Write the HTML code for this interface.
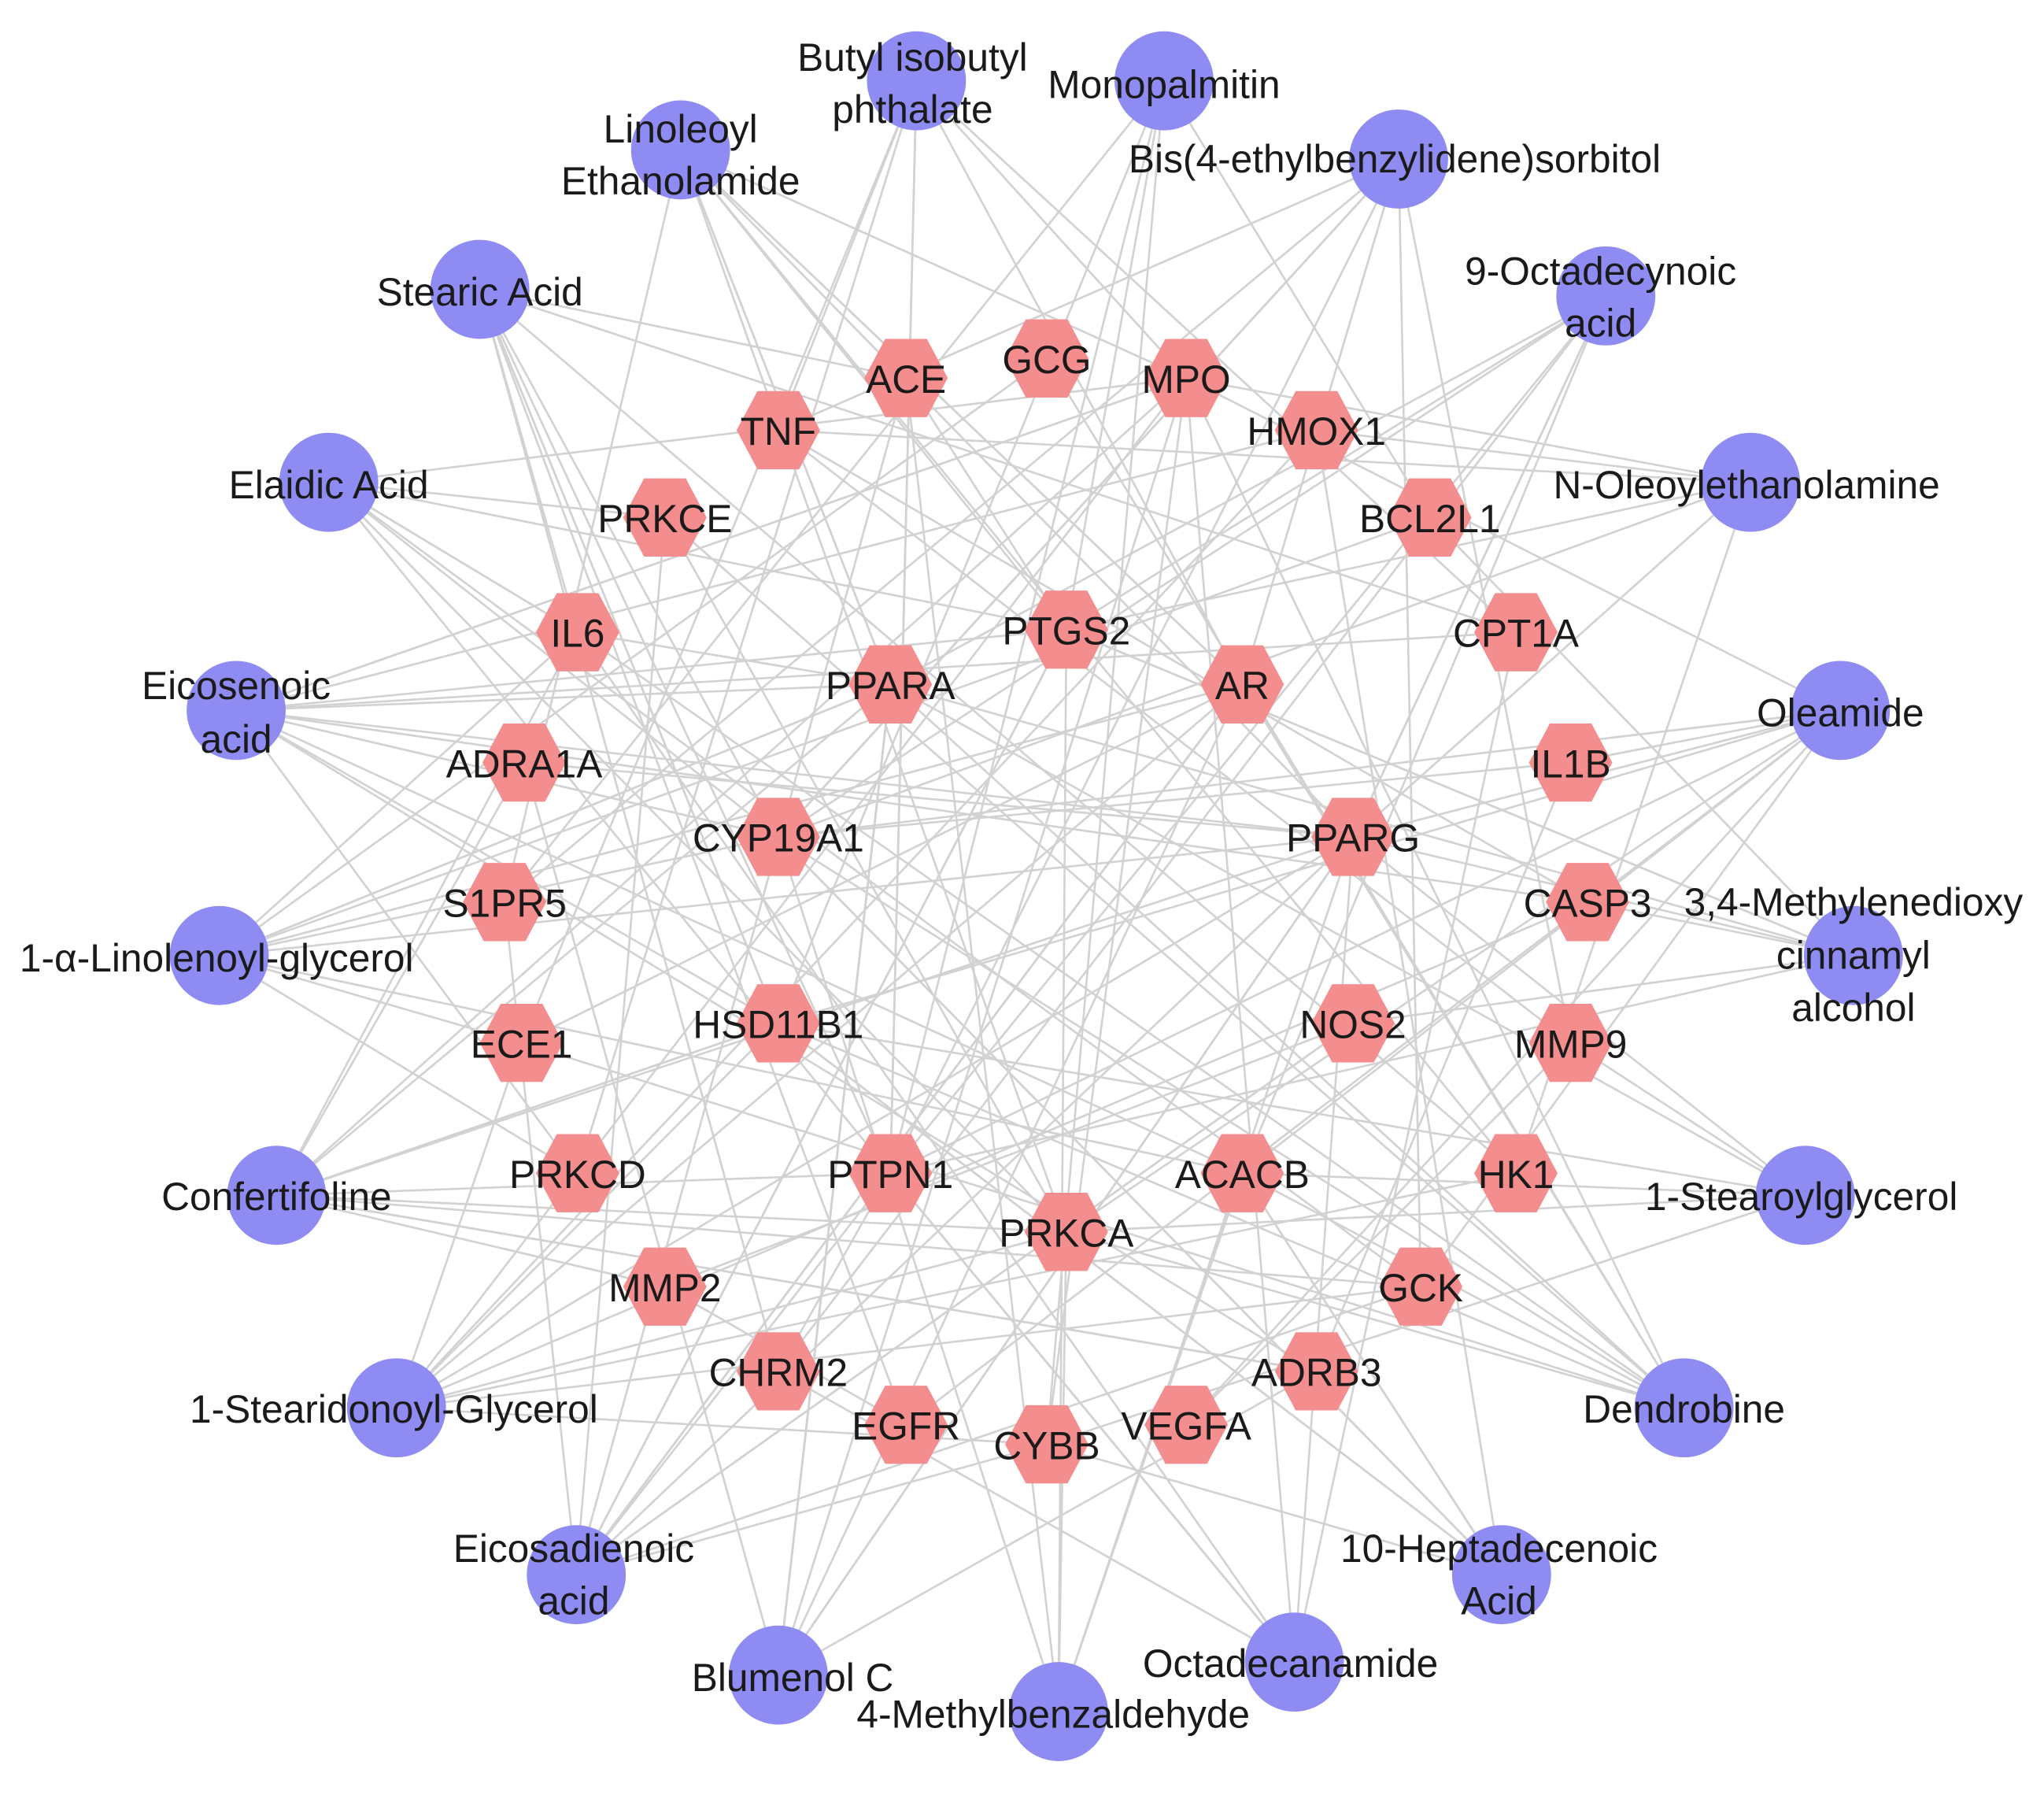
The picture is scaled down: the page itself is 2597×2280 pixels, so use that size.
<!DOCTYPE html>
<html><head><meta charset="utf-8"><style>
html,body{margin:0;padding:0;background:#fff;}
svg{display:block;}
text{font-family:"Liberation Sans",sans-serif;font-size:30px;fill:#1a1a1a;text-anchor:middle;dominant-baseline:central;}
</style></head><body>
<svg id="s" width="2597" height="2280" viewBox="0 0 1568 1377" xmlns="http://www.w3.org/2000/svg">
<rect width="1568" height="1377" fill="#fff"/>
<g id="edges" stroke="#d2d2d2" stroke-width="1.6"></g>
<g id="nodes"></g>
<g id="labels"></g>
</svg>
<script>
var C=[
[703,62,[["Butyl isobutyl",700,44],["phthalate",700,84]]],
[893,62,[["Monopalmitin",893,65]]],
[522,115,[["Linoleoyl",522,99],["Ethanolamide",522,139]]],
[1073,122,[["Bis(4-ethylbenzylidene)sorbitol",1070,122]]],
[368,222,[["Stearic Acid",368,224]]],
[1232,227,[["9-Octadecynoic",1228,208],["acid",1228,248]]],
[252,370,[["Elaidic Acid",252,372]]],
[1343,370,[["N-Oleoylethanolamine",1340,372]]],
[181,545,[["Eicosenoic",181,526],["acid",181,567]]],
[1412,545,[["Oleamide",1412,547]]],
[168,733,[["1-α-Linolenoyl-glycerol",166,735]]],
[1422,733,[["3,4-Methylenedioxy",1422,692],["cinnamyl",1422,733],["alcohol",1422,773]]],
[212,917,[["Confertifoline",212,918]]],
[1385,917,[["1-Stearoylglycerol",1382,918]]],
[304,1080,[["1-Stearidonoyl-Glycerol",302,1081]]],
[1292,1080,[["Dendrobine",1292,1081]]],
[442,1208,[["Eicosadienoic",440,1188],["acid",440,1228]]],
[1152,1208,[["10-Heptadecenoic",1150,1188],["Acid",1150,1228]]],
[597,1285,[["Blumenol C",608,1287]]],
[993,1275,[["Octadecanamide",990,1276]]],
[812,1313,[["4-Methylbenzaldehyde",808,1315]]]
];
var H=[["ACE",695,290],["GCG",803,275],["MPO",910,290],["TNF",597,330],["HMOX1",1010,330],["PRKCE",510,397],["BCL2L1",1097,397],["IL6",443,485],["PTGS2",818,483],["CPT1A",1163,485],["PPARA",683,525],["AR",953,525],["ADRA1A",402,585],["IL1B",1205,585],["CYP19A1",597,642],["PPARG",1038,642],["S1PR5",387,692],["CASP3",1218,692],["HSD11B1",597,785],["NOS2",1038,785],["ECE1",400,800],["MMP9",1205,800],["PRKCD",443,900],["PTPN1",683,900],["ACACB",953,900],["HK1",1163,900],["PRKCA",818,945],["MMP2",510,987],["GCK",1090,987],["CHRM2",597,1052],["ADRB3",1010,1052],["EGFR",695,1093],["CYBB",803,1108],["VEGFA",910,1093]];
var NS="http://www.w3.org/2000/svg";
function el(t,a,p){var e=document.createElementNS(NS,t);for(var k in a)e.setAttribute(k,a[k]);p.appendChild(e);return e;}
var E=document.getElementById("edges"),N=document.getElementById("nodes"),L=document.getElementById("labels");
var seed=7;function r(){seed=(seed*9301+49297)%233280;return seed/233280;}
var hub=[8,10,14,18,23,26,11,15,19,24];
C.forEach(function(c,i){
  var n=6+Math.floor(r()*6);
  if(i==12||i==14||i==16||i==18||i==8||i==10)n+=5;
  for(var j=0;j<n;j++){var h=H[r()<0.35?hub[Math.floor(r()*hub.length)]:Math.floor(r()*H.length)];
    el("line",{x1:c[0],y1:c[1],x2:h[1],y2:h[2]},E);}
});
for(var k=0;k<14;k++){var a=H[Math.floor(r()*H.length)],b=H[Math.floor(r()*H.length)];el("line",{x1:a[1],y1:a[2],x2:b[1],y2:b[2]},E);}
C.forEach(function(c){el("circle",{cx:c[0],cy:c[1],r:38,fill:"#8e8cf3"},N);
  c[2].forEach(function(t){var x=el("text",{x:t[1],y:t[2]},L);x.textContent=t[0];});});
H.forEach(function(h){var x=h[1],y=h[2],w=32,s=16,v=30;
  el("polygon",{points:[(x-w)+","+y,(x-s)+","+(y-v),(x+s)+","+(y-v),(x+w)+","+y,(x+s)+","+(y+v),(x-s)+","+(y+v)].join(" "),fill:"#f48d8d"},N);
  var t=el("text",{x:x,y:y+1},L);t.textContent=h[0];});
</script>
</body></html>
